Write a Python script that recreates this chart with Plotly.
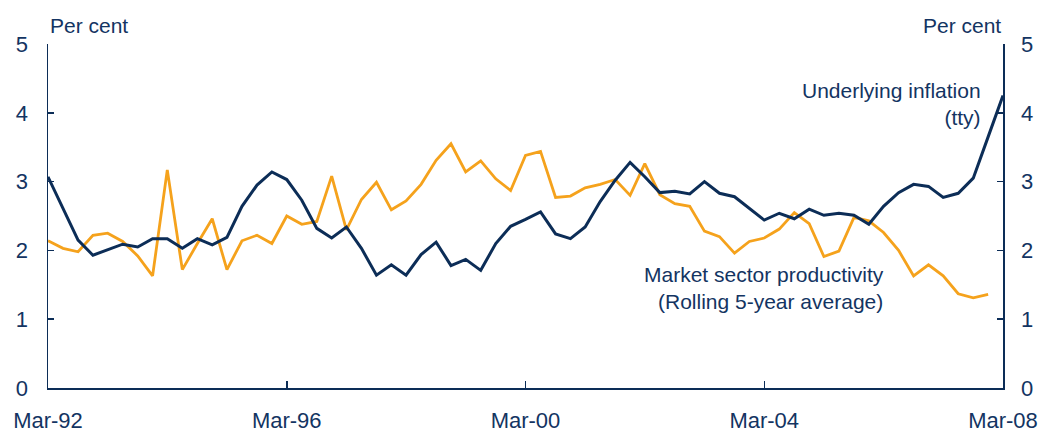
import pandas as pd
import plotly.graph_objects as go

# Quarterly dates Mar-92 .. Mar-08
quarters = pd.date_range("1992-03-01", "2008-03-01", freq="QS-MAR")

underlying_inflation = [
    3.07, 2.60, 2.15, 1.93, 2.01, 2.09, 2.05, 2.17, 2.17, 2.03,
    2.17, 2.08, 2.19, 2.64, 2.95, 3.14, 3.03, 2.73, 2.32, 2.18,
    2.34, 2.03, 1.64, 1.79, 1.64, 1.94, 2.12, 1.78, 1.87, 1.71,
    2.10, 2.35, 2.45, 2.56, 2.24, 2.17, 2.34, 2.71, 3.02, 3.28,
    3.07, 2.84, 2.86, 2.82, 3.00, 2.83, 2.78, 2.61, 2.44, 2.54,
    2.46, 2.60, 2.51, 2.54, 2.51, 2.38, 2.64, 2.84, 2.96, 2.93,
    2.77, 2.83, 3.05, 3.65, 4.25,
]

productivity = [
    2.14, 2.03, 1.98, 2.22, 2.25, 2.13, 1.92, 1.63, 3.17, 1.72,
    2.10, 2.46, 1.72, 2.14, 2.22, 2.10, 2.50, 2.38, 2.42, 3.08,
    2.30, 2.74, 2.99, 2.59, 2.72, 2.96, 3.31, 3.55, 3.14, 3.30,
    3.04, 2.87, 3.38, 3.44, 2.77, 2.79, 2.91, 2.96, 3.03, 2.80,
    3.26, 2.81, 2.68, 2.64, 2.28, 2.20, 1.96, 2.13, 2.18, 2.31,
    2.55, 2.39, 1.91, 1.99, 2.48, 2.43, 2.26, 2.00, 1.63, 1.79,
    1.63, 1.37, 1.31, 1.36, None,
]

x_tick_vals = ["1992-03-01", "1996-03-01", "2000-03-01", "2004-03-01", "2008-03-01"]
x_tick_text = ["Mar-92", "Mar-96", "Mar-00", "Mar-04", "Mar-08"]
y_ticks = [0, 1, 2, 3, 4, 5]

NAVY = "#0c2d57"
TEXT = "#133462"
ORANGE = "#f5a21c"
FONT = "Liberation Sans, Arial, sans-serif"

fig = go.Figure()
fig.add_trace(go.Scatter(x=quarters, y=productivity, mode="lines",
                         line=dict(color=ORANGE, width=2.8), showlegend=False,
                         connectgaps=False))
fig.add_trace(go.Scatter(x=quarters, y=underlying_inflation, mode="lines",
                         line=dict(color=NAVY, width=3), showlegend=False))
# invisible trace to activate right axis
fig.add_trace(go.Scatter(x=[quarters[0]], y=[None], yaxis="y2", showlegend=False,
                         hoverinfo="skip"))

axis_common = dict(range=[0, 5], tickvals=y_ticks, showgrid=False, zeroline=False,
                   showline=True, linecolor=NAVY, linewidth=1.5,
                   ticks="inside", ticklen=6, tickcolor=NAVY, tickwidth=1.5,
                   tickfont=dict(size=22, color=TEXT, family=FONT),
                   automargin=False, fixedrange=True)

fig.update_layout(
    width=1043, height=432,
    margin=dict(l=48, r=40, t=44, b=44),
    paper_bgcolor="white", plot_bgcolor="white",
    font=dict(family=FONT, color=TEXT, size=21),
    xaxis=dict(type="date", range=["1992-03-01", "2008-03-01"],
               tickvals=x_tick_vals, ticktext=x_tick_text,
               showgrid=False, zeroline=False, showline=True,
               linecolor=NAVY, linewidth=1.5, ticks="inside", ticklen=7,
               tickcolor=NAVY, tickwidth=1.5, ticklabelstandoff=12,
               automargin=False, fixedrange=True,
               tickfont=dict(size=22, color=TEXT, family=FONT)),
    yaxis=dict(side="left", ticklabelstandoff=14, **axis_common),
    yaxis2=dict(side="right", overlaying="y", ticklabelstandoff=12, **axis_common),
    annotations=[
        dict(text="Per cent", xref="paper", yref="paper", x=0.0, y=1.055,
             xanchor="left", yanchor="middle", showarrow=False,
             font=dict(size=21, color=TEXT, family=FONT)),
        dict(text="Per cent", xref="paper", yref="paper", x=1.0, y=1.055,
             xanchor="right", yanchor="middle", showarrow=False,
             font=dict(size=21, color=TEXT, family=FONT)),
        dict(text="Underlying inflation<br>(tty)", xref="paper", yref="paper",
             x=0.979, y=0.826, xanchor="right", yanchor="middle", align="right",
             showarrow=False, font=dict(size=21, color=TEXT, family=FONT)),
        dict(text="Market sector productivity<br>(Rolling 5-year average)",
             xref="paper", yref="paper", x=0.878, y=0.291, xanchor="right",
             yanchor="middle", align="right", showarrow=False,
             font=dict(size=21, color=TEXT, family=FONT)),
    ],
)

fig.write_html("out.html",
               config={"displayModeBar": False, "staticPlot": True},
               post_script="document.body.style.margin='0';document.body.style.overflow='hidden';")
